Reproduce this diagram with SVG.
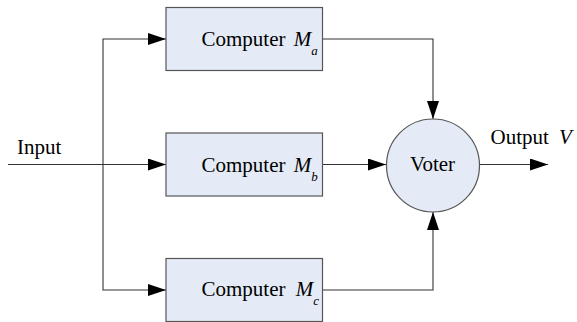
<svg xmlns="http://www.w3.org/2000/svg" width="577" height="322" viewBox="0 0 577 322">
<style>
.box{fill:#e4ebf6;stroke:#555;stroke-width:1.2}
.ln{fill:none;stroke:#333;stroke-width:1.1}
text{font-family:"Liberation Serif","Times New Roman",serif;font-size:21px;fill:#000}
.it{font-style:italic}
.sub{font-style:italic;font-size:13px}
</style>
<defs>
<marker id="ah" markerWidth="18" markerHeight="12" refX="18" refY="6" orient="auto" markerUnits="userSpaceOnUse">
<path d="M0,0 L18,6 L0,12 Z" fill="#000"/>
</marker>
</defs>
<g id="connectors">
<line class="ln" x1="8" y1="164.5" x2="166" y2="164.5" marker-end="url(#ah)"/>
<polyline class="ln" points="103,164.5 103,39 166,39" marker-end="url(#ah)"/>
<polyline class="ln" points="103,164.5 103,290 166,290" marker-end="url(#ah)"/>
<polyline class="ln" points="323,39 433,39 433,119" marker-end="url(#ah)"/>
<polyline class="ln" points="323,290 433,290 433,212" marker-end="url(#ah)"/>
<line class="ln" x1="323" y1="164.5" x2="386" y2="164.5" marker-end="url(#ah)"/>
<line class="ln" x1="480" y1="164.5" x2="548" y2="164.5" marker-end="url(#ah)"/>
</g>
<g id="input-label"><text x="17" y="154">Input</text></g>
<g id="computer-a">
<rect class="box" x="166" y="7.5" width="156.5" height="63"/>
<text x="201.5" y="46">Computer <tspan class="it" dx="3">M</tspan><tspan class="sub" dy="9">a</tspan></text>
</g>
<g id="computer-b">
<rect class="box" x="166" y="133" width="156.5" height="63"/>
<text x="201.5" y="171.5">Computer <tspan class="it" dx="3">M</tspan><tspan class="sub" dy="9">b</tspan></text>
</g>
<g id="computer-c">
<rect class="box" x="166" y="258.5" width="156.5" height="63"/>
<text x="201.5" y="296">Computer <tspan class="it" dx="5">M</tspan><tspan class="sub" dy="9">c</tspan></text>
</g>
<g id="voter">
<circle class="box" cx="433" cy="165.5" r="46.5"/>
<text x="432.5" y="171" text-anchor="middle">Voter</text>
</g>
<g id="output-label"><text x="490.5" y="144">Output <tspan class="it" dx="5">V</tspan></text></g>
</svg>
